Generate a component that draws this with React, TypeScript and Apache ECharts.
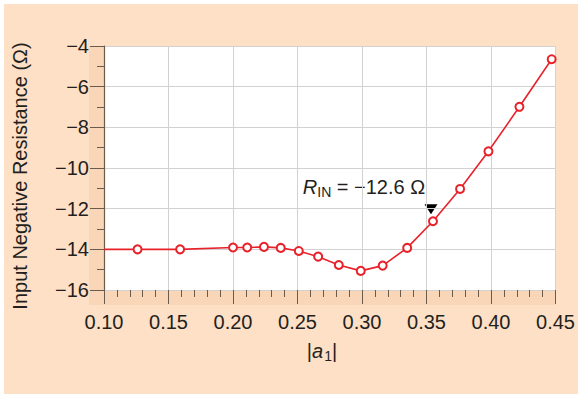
import React, { useEffect, useRef } from "react";
import * as echarts from "echarts";

const xValues = [0.1, 0.126, 0.159, 0.2, 0.211, 0.224, 0.237, 0.251, 0.266, 0.282, 0.299, 0.316, 0.335, 0.355, 0.376, 0.398, 0.422, 0.447];
const yValues = [-14.0, -14.0, -14.0, -13.91, -13.91, -13.88, -13.93, -14.08, -14.36, -14.77, -15.06, -14.8, -13.93, -12.62, -11.03, -9.18, -6.99, -4.65];
const annotatedIndex = 13;
const annotationValue = "−12.6 Ω";
const yAxisTitle = "Input Negative Resistance (Ω)";

const FONT = "'Liberation Sans', Arial, Helvetica, sans-serif";
const PEACH = "#fde0c5";
const BAND = "#f9d6b8";
const TICK = "#6b5b4d";
const RED = "#e8222b";
const TEXT = "#231f20";

export default function App() {
  const ref = useRef<HTMLDivElement>(null);
  useEffect(() => {
    if (!ref.current) return;
    const chart = echarts.init(ref.current, null, { renderer: "svg" });
    const data = xValues.map((x, i) =>
      i === 0 ? { value: [x, yValues[i]], symbol: "none" } : { value: [x, yValues[i]] }
    );
    const fmtMinus = (v: number) => (v < 0 ? "−" + Math.abs(v) : String(v));
    chart.setOption({
      animation: false,
      backgroundColor: PEACH,
      textStyle: { fontFamily: FONT },
      grid: {
        left: 104,
        right: 22,
        top: 46,
        bottom: 104,
        show: true,
        backgroundColor: "#ffffff",
        borderWidth: 0,
      },
      xAxis: {
        type: "value",
        min: 0.1,
        max: 0.45,
        interval: 0.05,
        z: 10,
        axisLine: { show: false },
        axisTick: { show: true, length: 14, lineStyle: { color: TICK, width: 1 } },
        minorTick: { show: true, splitNumber: 5, length: 7, lineStyle: { color: TICK, width: 1 } },
        splitLine: { show: true, lineStyle: { color: "#d2d2d2", width: 1 } },
        axisLabel: {
          fontSize: 20,
          color: TEXT,
          fontFamily: FONT,
          margin: 22,
          formatter: (v: number) => v.toFixed(2),
        },
      },
      yAxis: {
        type: "value",
        min: -16,
        max: -4,
        interval: 2,
        z: 10,
        axisLine: { show: true, lineStyle: { color: TICK, width: 1.2 } },
        axisTick: { show: true, length: 14, lineStyle: { color: TICK, width: 1 } },
        minorTick: { show: true, splitNumber: 2, length: 7, lineStyle: { color: TICK, width: 1 } },
        splitLine: { show: true, lineStyle: { color: "#d2d2d2", width: 1 } },
        axisLabel: {
          fontSize: 20,
          color: TEXT,
          fontFamily: FONT,
          margin: 15,
          formatter: fmtMinus,
        },
      },
      graphic: [
        { type: "rect", z: 1, shape: { x: 0, y: 0, width: 578, height: 4 }, style: { fill: "#ffffff" } },
        { type: "rect", z: 1, shape: { x: 0, y: 0, width: 4, height: 394 }, style: { fill: "#ffffff" } },
        { type: "rect", z: 1, shape: { x: 89, y: 46, width: 15, height: 259 }, style: { fill: BAND } },
        { type: "rect", z: 1, shape: { x: 104, y: 290, width: 452, height: 15 }, style: { fill: BAND } },
        {
          type: "text",
          z: 5,
          x: 20,
          y: 176,
          rotation: Math.PI / 2,
          style: {
            text: yAxisTitle,
            fontSize: 20,
            fontFamily: FONT,
            fill: TEXT,
            align: "center",
            verticalAlign: "middle",
          },
        },
        {
          type: "text",
          z: 5,
          x: 322,
          y: 351,
          style: {
            text: "|{i|a}{s|1}|",
            fontSize: 20,
            fontFamily: FONT,
            fill: TEXT,
            align: "center",
            verticalAlign: "middle",
            rich: {
              i: { fontStyle: "italic", fontSize: 20, fontFamily: FONT, fill: TEXT },
              s: { fontSize: 14, fontFamily: FONT, fill: TEXT, verticalAlign: "bottom", padding: [9, 0, 0, 1] },
            },
          },
        },
      ],
      series: [
        {
          type: "line",
          data,
          symbol: "emptyCircle",
          symbolSize: 8,
          lineStyle: { color: RED, width: 1.6 },
          itemStyle: { color: RED, borderColor: RED, borderWidth: 1.6 },
          z: 20,
          markPoint: {
            symbol: "path://M0,0 L12,0 L6,10 Z",
            symbolSize: [13, 10],
            symbolOffset: [-2, -12],
            itemStyle: { color: "#000000", borderWidth: 0 },
            label: {
              show: true,
              position: "inside",
              offset: [-67, -22],
              formatter: "{r|R}{sub|IN}{t| = " + annotationValue + "}",
              rich: {
                r: { fontStyle: "italic", fontSize: 20, fontFamily: FONT, color: TEXT },
                sub: { fontSize: 14, fontFamily: FONT, color: TEXT, padding: [9, 0, 0, 0] },
                t: { fontSize: 20, fontFamily: FONT, color: TEXT },
              },
            },
            data: [{ coord: [xValues[annotatedIndex], yValues[annotatedIndex]] }],
          },
        },
      ],
    });
    return () => chart.dispose();
  }, []);
  return (
    <div
      ref={ref}
      style={{ position: "absolute", left: 0, top: 0, width: 578, height: 394 }}
    />
  );
}
